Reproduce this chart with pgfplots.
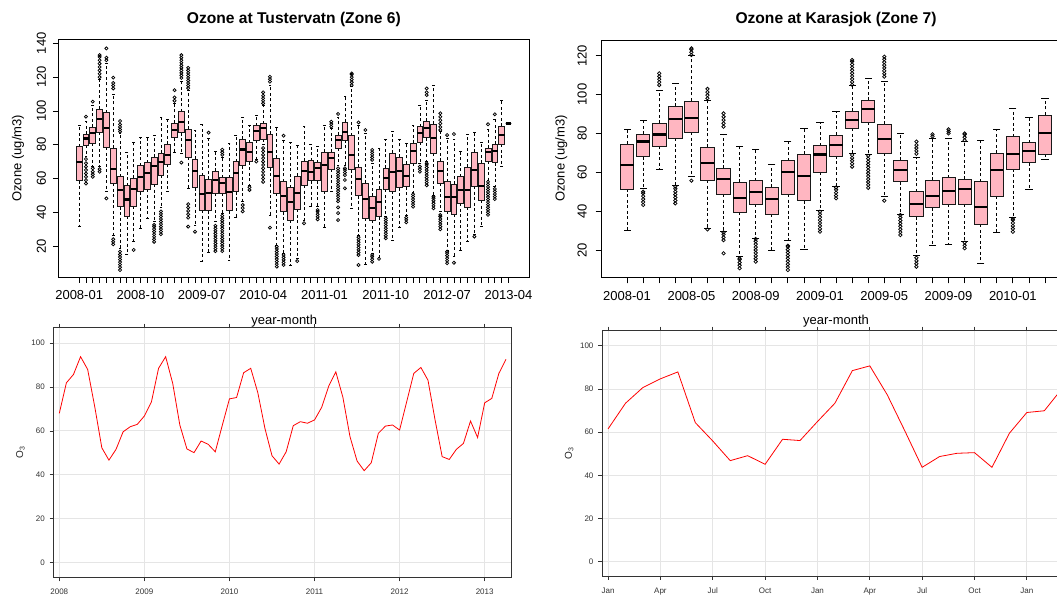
\documentclass[border=0pt]{standalone}
\usepackage{pgfplots}
\pgfplotsset{compat=1.18}
\usepackage{pgfplotstable}
\usepgfplotslibrary{statistics}
\usepackage{fontspec}
\setmainfont{Liberation Sans}

\definecolor{boxfill}{HTML}{FFB6C1}
\definecolor{gridcol}{HTML}{E5E5E5}

% Monthly box statistics, Tustervatn (whiskers, quartiles, median)
\pgfplotstableread{
pos lw lq med uq uw
1 31.9 58.7 69.7 78.8 91.6
2 72.9 79.8 83.7 86.1 94.0
3 67.0 80.8 87.1 90.4 103.1
4 67.0 87.3 95.2 101.1 118.8
5 52.1 78.4 89.7 98.9 128.2
6 26.5 57.1 65.6 77.8 109.8
7 18.6 43.3 53.2 61.1 86.7
8 15.0 37.7 47.6 55.7 75.2
9 22.6 43.6 53.7 60.0 81.1
10 30.5 52.2 61.1 67.6 84.1
11 36.4 53.6 63.1 69.4 84.1
12 34.4 56.7 67.4 72.5 85.7
13 42.7 62.0 69.9 74.9 96.0
14 52.2 68.3 73.9 80.4 95.0
15 75.5 84.1 88.8 92.6 104.5
16 74.9 87.1 93.2 99.5 117.3
17 54.2 72.5 82.6 89.1 112.3
18 32.0 54.6 64.6 71.3 88.3
19 10.7 41.3 50.8 61.7 92.1
20 16.1 40.9 51.6 59.5 84.0
21 34.4 51.2 59.1 64.4 75.9
22 39.4 51.2 57.1 60.5 72.5
23 11.4 40.9 52.2 60.5 80.8
24 36.8 52.2 63.4 69.9 85.7
25 46.3 67.6 77.2 83.3 96.0
26 56.1 69.9 75.9 81.1 91.2
27 71.5 82.7 88.3 91.2 97.5
28 80.5 83.1 89.7 92.4 103.5
29 38.4 66.4 75.9 86.1 115.3
30 20.6 51.2 61.5 71.9 90.1
31 15.7 40.3 49.6 58.1 82.8
32 8.8 35.4 45.9 54.6 81.4
33 12.7 41.7 51.2 61.5 79.8
34 35.5 56.1 64.6 70.3 90.7
35 43.7 58.7 63.6 70.5 80.2
36 43.3 58.7 66.4 69.4 79.2
37 31.1 52.6 68.0 75.5 91.6
38 52.2 65.6 71.9 75.5 89.7
39 68.0 77.8 82.8 85.7 96.0
40 68.0 82.8 87.7 93.2 108.4
41 42.3 65.3 73.9 85.3 114.3
42 26.5 49.8 59.7 66.6 91.6
43 9.2 36.4 47.8 57.1 86.7
44 15.7 35.4 42.7 49.6 69.0
45 13.1 37.4 46.3 53.6 77.8
46 37.4 53.6 60.5 66.0 83.3
47 23.6 52.6 64.0 74.9 87.7
48 31.1 54.6 64.6 72.5 83.3
49 38.4 55.2 61.5 68.6 80.8
50 52.0 69.0 76.5 80.8 91.6
51 69.0 81.4 87.1 90.7 103.5
52 70.0 84.1 89.7 94.0 106.5
53 50.2 74.9 84.1 92.0 115.3
54 40.3 57.1 64.6 70.3 87.7
55 17.7 40.7 48.8 58.1 83.7
56 13.7 38.7 48.8 56.7 83.1
57 17.7 45.3 53.2 61.1 76.3
58 22.6 42.9 53.2 66.6 86.3
59 27.1 55.4 64.9 75.5 87.3
60 31.5 47.2 55.5 68.9 81.4
61 59.1 70.3 75.5 77.8 89.0
62 55.2 69.4 76.3 80.2 95.0
63 67.0 80.2 85.7 91.0 106.1
64 92.5 92.5 92.5 92.5 92.5
}\tusterbox

% Outlying hourly values, Tustervatn
\pgfplotstableread[row sep=\\]{
pos val\\
2 96.6\\ 2 57\\ 2 59\\ 2 61\\ 2 63\\ 2 65\\ 2 67\\ 2 69\\ 2 71.5\\
3 105.5\\ 3 61\\ 3 62.5\\ 3 64\\ 3 66\\
4 120\\ 4 122\\ 4 124\\ 4 126\\ 4 128\\ 4 130\\ 4 132\\ 4 133\\ 4 64\\ 4 65.5\\
5 130\\ 5 131.5\\ 5 137\\ 5 48.2\\
6 113.3\\ 6 115\\ 6 116.5\\ 6 119.7\\ 6 21\\ 6 22.5\\ 6 24\\
7 87.7\\ 7 89\\ 7 90.5\\ 7 92\\ 7 94\\ 7 5.8\\ 7 7.5\\ 7 9\\ 7 10.5\\ 7 12\\ 7 13.5\\ 7 15\\ 7 16.7\\
9 17.7\\
12 22.5\\ 12 24\\ 12 25.5\\ 12 27\\ 12 28.5\\ 12 30\\ 12 31.5\\ 12 32.5\\
13 27\\ 13 28.5\\ 13 30\\ 13 31.5\\ 13 33\\ 13 34.5\\ 13 36\\ 13 37.5\\ 13 39\\ 13 40.5\\
15 106\\ 15 108\\ 15 112.3\\
16 119.5\\ 16 121\\ 16 122.5\\ 16 124\\ 16 125.5\\ 16 127\\ 16 128.5\\ 16 130\\ 16 131.5\\ 16 133\\ 16 69.4\\
17 113.5\\ 17 115\\ 17 116.5\\ 17 118\\ 17 119.5\\ 17 121\\ 17 122.5\\ 17 124\\ 17 125.5\\ 17 44.8\\ 17 42.8\\ 17 40.8\\ 17 38.8\\ 17 36.8\\ 17 31.5\\
18 28.5\\
20 87.1\\
21 17\\ 21 18.5\\ 21 20\\ 21 21.5\\ 21 23\\ 21 24.5\\ 21 26\\ 21 27.5\\ 21 29\\ 21 30.5\\ 21 32\\
22 74\\ 22 75.5\\ 22 77\\ 22 17\\ 22 18.5\\ 22 20\\ 22 21.5\\ 22 23\\ 22 24.5\\ 22 26\\ 22 27.5\\ 22 29\\ 22 30.5\\ 22 32\\ 22 33.5\\ 22 35\\ 22 36.5\\ 22 38\\
25 40.5\\ 25 42.5\\ 25 44.3\\
26 53.2\\ 26 54.8\\
27 70\\
28 104.5\\ 28 106\\ 28 107.5\\ 28 109\\ 28 111\\ 28 58\\ 28 60\\ 28 62\\ 28 64\\ 28 66\\ 28 68\\ 28 70\\ 28 72\\ 28 74\\ 28 76\\ 28 78\\
29 117.3\\ 29 118.8\\ 29 120.2\\ 29 30.9\\
30 7.8\\ 30 9.3\\ 30 10.8\\ 30 12.3\\ 30 13.8\\ 30 15.3\\ 30 16.8\\ 30 18.3\\ 30 19.6\\
31 85.3\\ 31 8.8\\ 31 10.3\\ 31 11.8\\ 31 13.3\\ 31 14.7\\
33 11.1\\
34 33.5\\
36 35.8\\ 36 37.3\\ 36 38.8\\ 36 40.3\\ 36 41.3\\
38 90.7\\ 38 92.2\\ 38 93.6\\
39 98.2\\ 39 46.5\\ 39 48\\ 39 49.5\\ 39 51\\ 39 52.5\\ 39 54\\ 39 55.5\\ 39 57\\ 39 58.5\\ 39 60\\ 39 61.5\\ 39 63\\ 39 64.5\\ 39 66\\ 39 42.9\\ 39 39.5\\ 39 35.4\\
40 62\\ 40 63.5\\ 40 65\\ 40 66\\ 40 59.1\\ 40 54.2\\
41 115.3\\ 41 117\\ 41 118.5\\ 41 120\\ 41 121.5\\ 41 122.2\\
42 93.2\\ 42 14.7\\ 42 16.2\\ 42 17.7\\ 42 19.2\\ 42 20.7\\ 42 22.2\\ 42 23.7\\ 42 25.2\\ 42 8.8\\
43 88.7\\
44 71\\ 44 72.5\\ 44 74\\ 44 75.5\\ 44 76.9\\ 44 10.7\\ 44 12.2\\ 44 13.7\\ 44 14.7\\
45 12.4\\
46 24.6\\ 46 26.1\\ 46 27.6\\ 46 29.1\\ 46 30.6\\ 46 32.1\\ 46 33.6\\ 46 35.1\\ 46 36.4\\
49 34\\ 49 35.5\\ 49 36.8\\
50 43.3\\ 50 44.8\\ 50 46.3\\ 50 47.8\\ 50 49.3\\ 50 50.6\\
51 64\\ 51 65.5\\ 51 67\\
52 109.4\\ 52 111\\ 52 113.3\\ 52 56\\ 52 57.5\\ 52 59\\ 52 60.5\\ 52 62\\ 52 63.5\\ 52 65\\ 52 66.5\\ 52 68\\ 52 69\\
53 42.3\\ 53 43.8\\ 53 45.3\\ 53 46.8\\ 53 48.3\\ 53 49.2\\
54 88.7\\ 54 90.5\\ 54 92.5\\ 54 94.5\\ 54 96.5\\ 54 98.6\\ 54 29.9\\ 54 31.5\\ 54 33\\ 54 34.5\\ 54 36\\ 54 37.5\\ 54 38.4\\
55 85.7\\ 55 9.8\\ 55 11.3\\ 55 12.8\\ 55 14.3\\ 55 15.8\\ 55 16.7\\
56 86.3\\ 56 10.1\\
59 25.6\\
61 92.1\\ 61 38.5\\ 61 40\\ 61 41.5\\ 61 43\\ 61 44.5\\ 61 46\\ 61 47.5\\ 61 49\\ 61 50.5\\ 61 52\\ 61 53.5\\ 61 55\\ 61 56.5\\ 61 58\\
62 98\\ 62 47.8\\ 62 49.3\\ 62 50.8\\ 62 52.3\\ 62 53.8\\
}\tusterout

% Monthly box statistics, Karasjok
\pgfplotstableread{
pos lw lq med uq uw
1 30.3 51.4 63.7 74.6 82.3
2 51.7 68.0 75.8 79.7 86.9
3 61.7 73.5 79.5 85.2 102.0
4 53.1 77.5 87.4 94.1 105.8
5 57.7 80.6 88.1 96.7 120.0
6 31.2 56.0 64.8 72.8 96.9
7 29.8 48.8 56.5 62.0 79.7
8 16.6 39.4 46.9 54.8 73.2
9 26.0 43.5 50.0 55.7 71.8
10 20.0 38.4 46.1 52.3 64.3
11 25.1 48.8 60.0 66.0 75.8
12 20.5 45.4 58.1 69.2 82.6
13 40.5 60.0 69.2 73.7 85.5
14 52.6 68.4 74.0 79.2 91.2
15 69.8 82.6 86.9 91.5 104.6
16 69.2 85.7 92.6 97.2 108.4
17 47.4 69.8 77.0 84.7 106.6
18 38.5 55.2 61.2 66.1 80.0
19 17.4 37.2 43.7 50.0 67.5
20 22.2 41.8 47.8 56.0 77.5
21 22.9 43.5 50.4 57.2 77.5
22 24.3 43.5 51.4 56.5 75.8
23 13.1 33.2 42.0 55.2 76.3
24 29.1 47.6 61.0 69.8 82.3
25 36.6 61.7 69.4 78.3 92.9
26 51.4 64.9 71.1 75.2 88.3
27 66.7 69.4 80.4 89.5 98.1
}\karabox

% Outlying hourly values, Karasjok
\pgfplotstableread[row sep=\\]{
pos val\\
2 43.2\\ 2 44.7\\ 2 46.2\\ 2 47.7\\ 2 49.2\\ 2 50\\
3 104.9\\ 3 106.4\\ 3 107.9\\ 3 109.4\\ 3 110.9\\
4 44\\ 4 45.5\\ 4 47\\ 4 48.5\\ 4 50\\ 4 51.5\\ 4 52.6\\
5 120.4\\ 5 121.8\\ 5 123.2\\ 5 123.8\\ 5 55.7\\
6 98.1\\ 6 99.7\\ 6 101.3\\ 6 102.9\\ 6 30.6\\
7 83.5\\ 7 85.2\\ 7 86.9\\ 7 88.6\\ 7 90.3\\ 7 25.1\\ 7 26.5\\ 7 28\\ 7 29.1\\ 7 18.3\\
8 10.6\\ 8 12.1\\ 8 13.6\\ 8 15.1\\ 8 15.7\\
9 14\\ 9 15.5\\ 9 17\\ 9 18.5\\ 9 20\\ 9 21.5\\ 9 23\\ 9 24.5\\ 9 25.7\\
11 9.7\\ 11 11.2\\ 11 12.7\\ 11 14.2\\ 11 15.7\\ 11 17.2\\ 11 18.7\\ 11 20.2\\ 11 21.7\\ 11 22.2\\
13 29.4\\ 13 30.9\\ 13 32.4\\ 13 33.9\\ 13 35.4\\ 13 36.9\\ 13 38.4\\ 13 39.7\\
14 46.6\\ 14 48\\ 14 49.5\\ 14 51\\ 14 52.1\\
15 105\\ 15 106.5\\ 15 108\\ 15 109.5\\ 15 111\\ 15 112.5\\ 15 114\\ 15 115.5\\ 15 117\\ 15 117.8\\ 15 62.9\\ 15 64.4\\ 15 65.9\\ 15 67.4\\ 15 68.9\\
16 52\\ 16 53.5\\ 16 55\\ 16 56.5\\ 16 58\\ 16 59.5\\ 16 61\\ 16 62.5\\ 16 64\\ 16 65.5\\ 16 67\\ 16 68.5\\
17 109.2\\ 17 110.7\\ 17 112.2\\ 17 113.7\\ 17 115.2\\ 17 116.7\\ 17 118.2\\ 17 119.5\\ 17 45.4\\
18 27.7\\ 18 29.2\\ 18 30.7\\ 18 32.2\\ 18 33.7\\ 18 35.2\\ 18 36.7\\ 18 38\\
19 69.5\\ 19 71\\ 19 72.5\\ 19 74\\ 19 75.8\\ 19 11.4\\ 19 12.9\\ 19 14.4\\ 19 16\\
20 78.5\\ 20 79.5\\
21 80\\ 21 81\\ 21 82.1\\
22 76.5\\ 22 78\\ 22 79.5\\ 22 80\\ 22 20.9\\ 22 22.4\\ 22 23.8\\
25 29.4\\ 25 30.9\\ 25 32.4\\ 25 33.9\\ 25 35.4\\ 25 36\\
}\karaout

% One prepared box plot from row #2 of table #1 (drawn at position row+1)
\newcommand\boxrow[2]{%
  \pgfplotstablegetelem{#2}{lw}\of#1\let\blw\pgfplotsretval
  \pgfplotstablegetelem{#2}{lq}\of#1\let\blq\pgfplotsretval
  \pgfplotstablegetelem{#2}{med}\of#1\let\bmed\pgfplotsretval
  \pgfplotstablegetelem{#2}{uq}\of#1\let\buq\pgfplotsretval
  \pgfplotstablegetelem{#2}{uw}\of#1\let\buw\pgfplotsretval
  \edef\boxcmd{\noexpand\addplot[boxplot prepared={%
      draw position=\number\numexpr#2+1\relax,
      lower whisker=\blw, lower quartile=\blq, median=\bmed,
      upper quartile=\buq, upper whisker=\buw}] coordinates {};}%
  \boxcmd}

\pgfplotsset{
  /pgf/number format/assume math mode=true,
  rbox/.style={
    scale only axis, anchor=south west,
    axis line style={black, line width=0.8pt},
    tick style={black, line width=0.8pt},
    tick align=outside, major tick length=5.5pt,
    xtick pos=left, ytick pos=left,
    tick label style={font=\fontsize{13}{15}\selectfont},
    xticklabel={\phantom{0}},
    xticklabel style={anchor=base, yshift=-17.2pt},
    boxplot/draw direction=y,
    boxplot/every box/.style={draw=black!90, fill=boxfill, line width=0.8pt},
    boxplot/every whisker/.style={draw=black, line width=0.6pt, dash pattern=on 3pt off 2.5pt},
    boxplot/every median/.style={draw=black, line width=2.2pt},
    boxplot/whisker extend=0,
    every axis title/.style={at={(rel axis cs:0.5,1)}, anchor=base, yshift=16pt,
      font=\fontsize{15.6}{18}\selectfont\bfseries},
    every axis y label/.style={at={(rel axis cs:0,0.5)}, xshift=-37pt, rotate=90, anchor=base,
      font=\fontsize{13}{15}\selectfont},
    every axis x label/.style={at={(rel axis cs:0.5,0)}, yshift=-47.7pt, anchor=base,
      font=\fontsize{13}{15}\selectfont},
    ylabel={Ozone (ug/m3)},
    xlabel={year-month},
  },
  lat/.style={
    scale only axis, anchor=south west,
    axis line style={black!80, line width=0.8pt},
    tick style={black!80, line width=0.8pt},
    tick align=outside, major tick length=4pt,
    xtick pos=both, ytick pos=left,
    grid=major, major grid style={gridcol, line width=0.9pt},
    tick label style={font=\fontsize{8}{9}\selectfont, text=black!80},
    xticklabel style={anchor=base, yshift=-13.2pt},
    yticklabel style={anchor=east, inner sep=0pt, xshift=-4.7pt},
    ymin=-6.65, ymax=107, ytick={0,20,...,100},
    every axis y label/.style={at={(rel axis cs:0,0.5)}, xshift=-30.5pt, rotate=90, anchor=base,
      font=\fontsize{10}{12}\selectfont, text=black!85},
    ylabel={O\textsubscript{3}},
  },
}

\begin{document}
\begin{tikzpicture}
\useasboundingbox (0pt,0pt) rectangle (1057pt,599pt);
\clip (0pt,0pt) rectangle (1057pt,599pt);

% ---- Tustervatn: monthly box plots
\begin{axis}[rbox,
  at={(58.3pt,321.7pt)}, width=471pt, height=238pt,
  xmin=-2.06, xmax=67.06, ymin=1.5, ymax=142.4,
  xtick={1,...,64},
  extra x ticks={1,10,19,28,37,46,55,64},
  extra x tick labels={2008-01,2008-10,2009-07,2010-04,2011-01,2011-10,2012-07,2013-04},
  ytick={20,40,...,140},
  yticklabel style={xshift=-7pt, rotate=90, anchor=base},
  xlabel style={xshift=-9.6pt},
  title={Ozone at Tustervatn (Zone 6)},
  boxplot/box extend=0.85,
]
\pgfplotsinvokeforeach{0,...,63}{\boxrow{\tusterbox}{#1}}
\addplot[only marks, mark=-, mark size=1.4pt, mark options={solid, black, line width=0.7pt}]
  table[x=pos, y=lw] {\tusterbox};
\addplot[only marks, mark=-, mark size=1.4pt, mark options={solid, black, line width=0.7pt}]
  table[x=pos, y=uw] {\tusterbox};
\addplot[only marks, mark=o, mark size=1.55pt, mark options={solid, black, line width=0.75pt}]
  table[x=pos, y=val] {\tusterout};
\end{axis}

% ---- Karasjok: monthly box plots
\begin{axis}[rbox,
  at={(601.7pt,321.7pt)}, width=468.7pt, height=237.3pt,
  xmin=-0.58, xmax=28.58, ymin=5.95, ymax=128.1,
  xtick={1,...,27},
  extra x ticks={1,5,9,13,17,21,25},
  extra x tick labels={2008-01,2008-05,2008-09,2009-01,2009-05,2009-09,2010-01},
  ytick={20,40,...,120},
  major tick length=6pt,
  yticklabel style={xshift=-9pt, rotate=90, anchor=base},
  title={Ozone at Karasjok (Zone 7)},
  boxplot/box extend=0.83,
]
\pgfplotsinvokeforeach{0,...,26}{\boxrow{\karabox}{#1}}
\addplot[only marks, mark=-, mark size=3.6pt, mark options={solid, black, line width=0.7pt}]
  table[x=pos, y=lw] {\karabox};
\addplot[only marks, mark=-, mark size=3.6pt, mark options={solid, black, line width=0.7pt}]
  table[x=pos, y=uw] {\karabox};
\addplot[only marks, mark=o, mark size=1.7pt, mark options={solid, black, line width=0.75pt}]
  table[x=pos, y=val] {\karaout};
\end{axis}

% ---- Tustervatn: monthly means (months since Jan 2008)
\begin{axis}[lat,
  at={(53.7pt,21.7pt)}, width=457.3pt, height=249.6pt,
  xmin=-0.79, xmax=63.71,
  xtick={0,12,...,60}, xticklabels={2008,2009,2010,2011,2012,2013},
]
\addplot[red, line width=0.8pt] coordinates {
(0,68.0) (1,81.9) (2,85.7) (3,93.8) (4,88.0) (5,71.0) (6,52.3) (7,46.7)
(8,51.6) (9,59.6) (10,61.9) (11,63.0) (12,66.8) (13,73.3) (14,88.5) (15,93.8)
(16,81.6) (17,62.7) (18,51.8) (19,50.1) (20,55.4) (21,53.9) (22,50.5) (23,62.7)
(24,74.6) (25,75.2) (26,86.5) (27,88.5) (28,77.4) (29,61.2) (30,48.7) (31,44.9)
(32,50.5) (33,62.4) (34,64.2) (35,63.5) (36,65.0) (37,70.7) (38,80.4) (39,86.9)
(40,75.3) (41,57.4) (42,46.3) (43,41.9) (44,45.5) (45,58.9) (46,62.2) (47,62.7)
(48,60.4) (49,73.3) (50,86.2) (51,88.9) (52,83.1) (53,65.0) (54,48.3) (55,47.0)
(56,51.6) (57,54.3) (58,64.5) (59,57.0) (60,72.8) (61,74.8) (62,86.2) (63,92.6)
};
\end{axis}

% ---- Karasjok: monthly means (months since Jan 2008)
\begin{axis}[lat,
  at={(602.3pt,23pt)}, width=465.2pt, height=245.3pt,
  xmin=-0.33, xmax=26.33,
  xtick={0,3,...,24}, xticklabels={Jan,Apr,Jul,Oct,Jan,Apr,Jul,Oct,Jan},
]
\addplot[red, line width=0.8pt] coordinates {
(0,61.5) (1,73.4) (2,80.7) (3,84.7) (4,87.9) (5,64.4) (6,55.9) (7,46.8)
(8,49.1) (9,45.1) (10,56.7) (11,56.1) (12,64.9) (13,73.4) (14,88.5) (15,90.7)
(16,77.3) (17,60.7) (18,43.7) (19,48.7) (20,50.2) (21,50.5) (22,43.7) (23,59.5)
(24,69.1) (25,69.9) (26,80.0)
};
\end{axis}
\end{tikzpicture}
\end{document}
